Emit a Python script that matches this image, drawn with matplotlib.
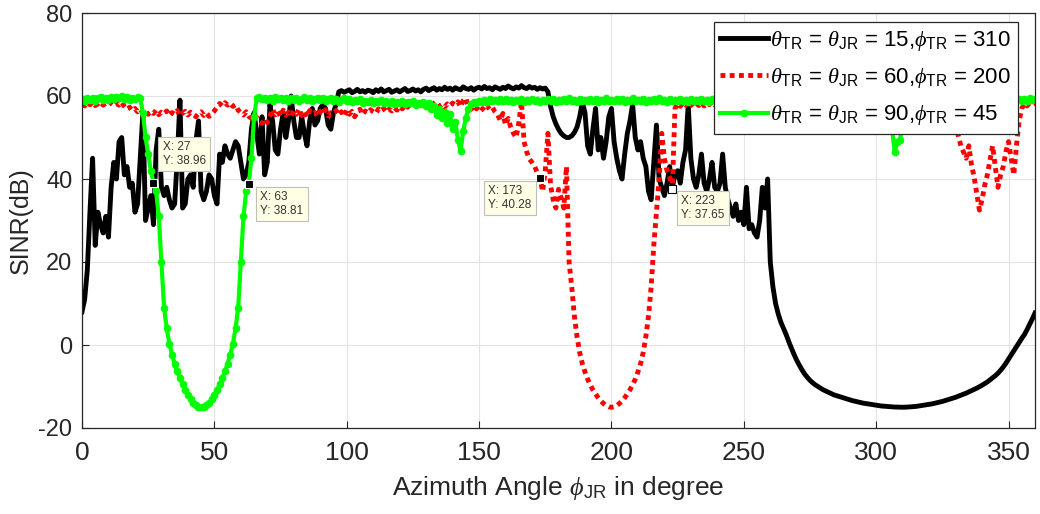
import numpy as np
import matplotlib
matplotlib.use('Agg')
import matplotlib.pyplot as plt

# azimuth angle grid (degree)
phi = np.arange(0, 361)

# SINR (dB), theta_TR = theta_JR = 15, phi_TR = 310
sinr_15 = [
    8, 11, 18, 32, 45, 24, 32, 29, 27, 31,                                  # 0
    26, 38, 44, 40, 49, 50, 41, 43, 38, 39,                                 # 10
    32, 34, 45, 56, 30, 33, 36, 29, 47, 52,                                 # 20
    38, 36, 38, 35, 33, 34, 45, 59, 33, 34,                                 # 30
    40, 41, 38, 49, 54, 37, 35, 37, 41, 40,                                 # 40
    36, 34, 46, 44, 48, 46, 45, 47, 49, 48,                                 # 50
    44, 40, 41, 44, 52, 56, 51, 46, 55, 41,                                 # 60
    44, 58, 54, 47, 46, 52, 56, 50, 54, 60,                                 # 70
    54, 50, 50, 55, 51, 48, 54, 57, 53, 54,                                 # 80
    57, 58, 57, 53, 52, 56, 58, 61, 61.3, 60.9,                             # 90
    61.2, 61.5, 60.8, 61.1, 61.6, 61.0, 61.3, 60.9, 61.4, 61.2,             # 100
    60.8, 61.5, 61.1, 61.7, 61.0, 61.3, 61.6, 60.9, 61.2, 61.5,             # 110
    61.0, 61.4, 61.8, 61.1, 61.3, 61.7, 61.2, 61.5, 61.0, 61.6,             # 120
    61.9, 61.3, 61.7, 62.0, 61.4, 61.8, 61.5, 62.1, 61.6, 61.9,             # 130
    61.4, 62.0, 61.7, 61.5, 62.2, 61.8, 61.6, 62.0, 61.4, 61.9,             # 140
    62.1, 61.7, 62.3, 61.8, 62.0, 61.5, 62.2, 61.9, 61.6, 62.1,             # 150
    61.8, 62.4, 62.0, 61.7, 62.2, 61.9, 62.5, 62.0, 61.8, 62.3,             # 160
    61.9, 62.1, 61.6, 62.0, 61.7, 61.9, 61.0, 57.5, 55.0, 53.3,             # 170
    52.0, 51.0, 50.4, 50.0, 50.0, 50.4, 51.2, 52.5, 55.0, 58.5,             # 180
    56, 48, 46, 52, 57, 47, 50, 45, 49, 55,                                 # 190
    57, 49, 45, 42, 40, 46, 51, 54, 58, 50,                                 # 200
    47, 49, 45, 43, 37, 35, 44, 53, 40, 38,                                 # 210
    36, 39, 43, 38, 41, 42, 39, 44, 47, 58,                                 # 220
    45, 40, 38, 41, 46, 39, 37, 40, 44, 38,                                 # 230
    37, 39, 46, 38, 35, 33, 31, 34, 30, 32,                                 # 240
    29, 38, 28, 29, 27, 26, 30, 38, 33, 40,                                 # 250
    20, 14, 10, 7.5, 5.5, 4, 2.5, 0.8, -0.8, -2.3,                          # 260
    -3.7, -4.9, -6, -7, -7.8, -8.5, -9.1, -9.6, -10, -10.4,                 # 270
    -10.8, -11.1, -11.4, -11.7, -12, -12.2, -12.4, -12.6, -12.8, -13,       # 280
    -13.2, -13.4, -13.55, -13.7, -13.85, -14, -14.1, -14.2, -14.3, -14.4,   # 290
    -14.5, -14.6, -14.7, -14.75, -14.8, -14.85, -14.9, -14.95, -14.97, -15, # 300
    -15, -14.98, -14.95, -14.9, -14.85, -14.8, -14.7, -14.6, -14.5, -14.4,  # 310
    -14.3, -14.2, -14.05, -13.9, -13.75, -13.6, -13.4, -13.2, -13, -12.8,   # 320
    -12.6, -12.35, -12.1, -11.85, -11.6, -11.3, -11, -10.7, -10.4, -10.05,  # 330
    -9.7, -9.3, -8.9, -8.4, -7.9, -7.4, -6.8, -6.1, -5.3, -4.4,             # 340
    -3.4, -2.4, -1.4, -0.4, 0.6, 1.6, 2.5, 3.7, 5, 6.3,                     # 350
    7.7,                                                                    # 360
]

# SINR (dB), theta_TR = theta_JR = 60, phi_TR = 200
sinr_60 = [
    58.2, 57.6, 58.4, 57.9, 58.5, 57.7, 58.1, 58.6, 57.8, 58.3,     # 0
    57.9, 58.4, 57.6, 58.2, 57.8, 58.5, 57.5, 56.8, 57.3, 56.5,     # 10
    57.0, 56.2, 56.8, 55.9, 56.5, 55.6, 56.3, 55.8, 56.6, 55.5,     # 20
    56.1, 55.7, 56.4, 55.3, 56.0, 55.6, 56.5, 55.2, 55.9, 56.3,     # 30
    55.4, 56.1, 55.7, 55.0, 55.8, 56.2, 55.3, 55.9, 55.1, 55.6,     # 40
    56.4, 57.3, 58.2, 57.6, 58.4, 57.8, 58.3, 57.5, 57.9, 56.6,     # 50
    56.0, 55.4, 56.2, 55.1, 54.6, 55.6, 54.8, 54.0, 53.4, 54.5,     # 60
    53.6, 55.2, 56.8, 55.5, 56.3, 55.0, 56.6, 55.4, 56.1, 55.2,     # 70
    56.4, 55.6, 56.9, 55.3, 56.2, 54.9, 56.5, 55.7, 56.0, 55.1,     # 80
    56.3, 55.5, 56.7, 55.2, 56.0, 55.8, 56.5, 55.4, 56.2, 55.1,     # 90
    56.6, 55.6, 56.3, 55.0, 56.1, 56.8, 55.5, 56.4, 55.9, 56.7,     # 100
    56.2, 55.8, 56.9, 56.3, 57.0, 56.1, 56.8, 56.4, 57.2, 56.6,     # 110
    57.5, 56.9, 57.8, 57.3, 58.1, 57.4, 58.3, 57.7, 58.5, 57.9,     # 120
    58.2, 57.6, 58.6, 57.9, 58.4, 57.5, 58.0, 57.3, 58.1, 57.6,     # 130
    58.3, 57.8, 58.6, 57.4, 58.9, 59.5, 57.2, 56.8, 57.7, 56.9,     # 140
    57.8, 57.1, 56.5, 57.6, 56.8, 57.3, 56.2, 55.5, 54.1, 55.8,     # 150
    53.0, 54.6, 52.4, 51.0, 50.0, 53.5, 58.6, 49.0, 46.5, 44.8,     # 160
    44.0, 43.0, 41.5, 40.28, 37.0, 42.0, 51.0, 38.5, 35.0, 33.0,    # 170
    37.5, 35.5, 33.0, 43.0, 20.0, 14.0, 7.0, 2.0, -1.8, -4.5,       # 180
    -6.5, -8.2, -9.6, -10.8, -11.8, -12.7, -13.5, -14.1, -14.6, -14.9,  # 190
    -15.0, -14.9, -14.6, -14.1, -13.5, -12.7, -11.8, -10.8, -9.6, -8.2, # 200
    -6.5, -4.5, -1.8, 2.0, 7.0, 14.0, 24.0, 32.0, 40.0, 51.0,       # 210
    45.0, 42.0, 40.5, 37.65, 57.0, 58.2, 57.5, 58.4, 57.8, 59.0,    # 220
    58.1, 57.4, 58.3, 57.7, 58.5, 57.6, 58.2, 57.9, 58.6, 57.8,     # 230
    58.0, 57.5, 58.3, 57.6, 58.1, 57.4, 58.2, 57.7, 58.0, 57.5,     # 240
    58.2, 57.6, 58.1, 57.3, 57.9, 57.5, 58.2, 57.8, 57.4, 58.0,     # 250
    57.6, 58.3, 57.7, 57.9, 57.2, 58.0, 57.5, 58.1, 57.6, 57.8,     # 260
    57.3, 58.0, 57.4, 57.9, 57.1, 57.7, 58.2, 57.5, 57.8, 57.2,     # 270
    57.9, 57.4, 58.1, 57.6, 57.8, 57.2, 57.9, 57.5, 58.0, 57.3,     # 280
    57.8, 57.4, 58.1, 57.6, 57.9, 57.3, 57.7, 58.0, 57.5, 57.8,     # 290
    57.2, 57.9, 57.5, 58.0, 57.4, 57.7, 57.1, 57.8, 57.5, 57.9,     # 300
    57.3, 57.6, 58.0, 57.4, 57.8, 57.2, 57.7, 57.5, 57.9, 57.3,     # 310
    57.6, 57.0, 57.5, 56.8, 57.2, 56.5, 56.9, 55.8, 56.4, 54.5,     # 320
    53.0, 50.5, 48.0, 46.5, 45.0, 48.0, 43.5, 40.5, 36.5, 32.5,     # 330
    35.0, 38.5, 41.0, 44.5, 48.0, 43.0, 38.0, 41.0, 43.0, 46.5,     # 340
    49.0, 45.0, 41.0, 48.0, 54.0, 57.0, 58.2, 57.6, 58.4, 57.9,     # 350
    58.3,                                                           # 360
]

# SINR (dB), theta_TR = theta_JR = 90, phi_TR = 45
sinr_90 = [
    59.3, 58.8, 59.5, 59.0, 59.6, 58.9, 59.4, 59.8, 59.1, 59.5,     # 0
    59.0, 59.7, 59.2, 59.8, 59.4, 60.0, 59.3, 59.7, 59.1, 59.6,     # 10
    59.2, 59.8, 59.4, 56.0, 50.0, 46.0, 42.0, 38.96, 37.0, 31.0,    # 20
    20.0, 9.0, 4.0, 0.3, -2.3, -4.5, -6.3, -8.0, -9.5, -10.8,       # 30
    -12.0, -13.0, -13.9, -14.5, -14.9, -15.0, -14.9, -14.5, -13.9, -13.0,  # 40
    -12.0, -10.8, -9.5, -8.0, -6.3, -4.5, -2.3, 0.3, 4.0, 9.0,      # 50
    20.0, 31.0, 37.0, 38.81, 45.0, 55.0, 59.5, 59.8, 59.2, 59.6,    # 60
    59.0, 59.5, 58.9, 59.7, 59.2, 59.6, 59.0, 59.4, 58.8, 59.5,     # 70
    59.1, 59.6, 58.9, 59.3, 59.7, 59.0, 59.4, 58.8, 59.3, 59.6,     # 80
    59.0, 59.4, 58.7, 59.2, 59.5, 58.9, 59.3, 58.6, 59.1, 59.4,     # 90
    58.8, 59.2, 58.5, 59.0, 58.7, 59.3, 58.4, 58.9, 58.6, 59.1,     # 100
    58.3, 58.8, 58.5, 59.0, 58.2, 58.7, 58.4, 58.9, 58.1, 58.6,     # 110
    58.3, 58.8, 58.0, 58.5, 58.2, 58.7, 57.9, 58.4, 58.1, 58.5,     # 120
    57.5, 58.2, 56.8, 57.6, 55.4, 56.9, 54.8, 56.2, 53.5, 55.6,     # 130
    52.0, 53.8, 49.5, 46.8, 51.5, 54.8, 56.9, 58.0, 58.6, 58.3,     # 140
    58.9, 58.5, 59.0, 58.6, 59.2, 58.7, 59.1, 58.8, 59.3, 58.9,     # 150
    59.2, 58.7, 59.0, 58.5, 59.1, 58.8, 59.3, 58.6, 59.0, 58.7,     # 160
    59.2, 58.8, 59.0, 58.5, 59.1, 58.7, 59.3, 58.9, 59.2, 58.6,     # 170
    59.0, 58.7, 59.2, 58.8, 59.4, 58.9, 59.1, 58.6, 59.3, 58.8,     # 180
    59.1, 58.7, 59.3, 58.9, 59.2, 58.6, 59.0, 58.8, 59.4, 58.9,     # 190
    59.1, 58.7, 59.3, 58.8, 59.2, 58.6, 59.0, 58.9, 59.4, 58.7,     # 200
    59.1, 58.8, 59.3, 58.6, 59.0, 58.9, 59.2, 58.7, 59.4, 58.8,     # 210
    59.0, 58.6, 59.3, 58.9, 59.1, 58.7, 59.2, 58.8, 59.0, 58.6,     # 220
    59.2, 58.8, 59.1, 58.7, 59.3, 58.9, 59.0, 58.6, 59.2, 58.8,     # 230
    59.1, 58.7, 59.0, 58.8, 59.2, 58.6, 59.1, 58.9, 59.0, 58.7,     # 240
    59.2, 58.8, 59.1, 58.6, 59.0, 58.9, 59.3, 58.7, 59.1, 58.8,     # 250
    59.0, 58.6, 59.2, 58.8, 59.1, 58.7, 59.0, 58.9, 59.2, 58.6,     # 260
    59.1, 58.8, 59.0, 58.7, 59.2, 58.9, 59.1, 58.6, 59.0, 58.8,     # 270
    59.2, 58.7, 59.1, 58.9, 59.0, 58.6, 59.2, 58.8, 59.1, 58.7,     # 280
    59.0, 58.8, 59.2, 58.6, 59.1, 58.9, 59.0, 58.7, 59.2, 58.8,     # 290
    59.1, 58.6, 59.0, 58.8, 58.2, 56.5, 52.0, 46.5, 49.0, 49.5,     # 300
    53.0, 57.5, 58.9, 59.2, 58.7, 59.1, 58.8, 59.0, 58.6, 59.2,     # 310
    58.8, 59.1, 58.7, 59.0, 58.9, 59.2, 58.6, 59.1, 58.8, 59.0,     # 320
    58.7, 59.2, 58.9, 59.1, 58.6, 59.0, 58.8, 59.2, 58.7, 59.1,     # 330
    58.9, 59.0, 58.6, 59.2, 58.8, 59.1, 58.7, 59.0, 58.9, 59.2,     # 340
    58.8, 59.1, 58.7, 59.0, 59.3, 58.9, 59.2, 58.8, 59.4, 59.0,     # 350
    59.2,                                                           # 360
]

# data tips
tip_x = [27, 63, 173, 223]
tip_y = [38.96, 38.81, 40.28, 37.65]

labels = [
    r'$\theta_{\mathrm{TR}}$ = $\theta_{\mathrm{JR}}$ = 15,$\phi_{\mathrm{TR}}$ = 310',
    r'$\theta_{\mathrm{TR}}$ = $\theta_{\mathrm{JR}}$ = 60,$\phi_{\mathrm{TR}}$ = 200',
    r'$\theta_{\mathrm{TR}}$ = $\theta_{\mathrm{JR}}$ = 90,$\phi_{\mathrm{TR}}$ = 45',
]

plt.rcParams['font.family'] = ['Liberation Sans', 'DejaVu Sans']
plt.rcParams['mathtext.fontset'] = 'custom'
plt.rcParams['mathtext.rm'] = 'Liberation Sans'
plt.rcParams['mathtext.it'] = 'Liberation Serif:italic'
plt.rcParams['axes.unicode_minus'] = False

fig = plt.figure(figsize=(10.4, 5.14), dpi=100)
ax = fig.add_axes([82 / 1040, 1 - 428 / 514, 953 / 1040, 415 / 514])

ax.plot(phi, sinr_15, color='k', lw=3.5, label=labels[0])
ax.plot(phi, sinr_60, color='#FF0000', lw=3.5, ls=(0, (1, 0.9)), label=labels[1])
ax.plot(phi, sinr_90, color='#00FF00', lw=3, marker='o', ms=4.5, label=labels[2])

# data tip markers and boxes
tip_offsets = [(6.5, 12), (8.4, -5.4), (-6.1, -5.4), (6.6, -4.7)]
tip_align = [('left', 'bottom'), ('left', 'top'), ('right', 'top'), ('left', 'top')]
tip_fill = ['k', 'k', 'k', 'w']
for x, y, off, (ha, va), fc in zip(tip_x, tip_y, tip_offsets, tip_align, tip_fill):
    ax.plot(x, y, marker='s', ms=6, mfc=fc, mec='k' if fc == 'w' else 'w', mew=0.8, zorder=5)
    ax.annotate(f'X: {x}\nY: {y:.2f}', xy=(x, y), xytext=off, textcoords='offset points',
                ha=ha, va=va, multialignment='left', fontsize=8.5, color='#333333',
                bbox=dict(boxstyle='square,pad=0.35', fc='#FFFFE6', ec='#BEBEBE', lw=0.8),
                zorder=6)

ax.set_xlim(0, 360)
ax.set_ylim(-20, 80)
ax.set_xticks(range(0, 351, 50))
ax.set_yticks(range(-20, 81, 20))
ax.grid(True, color='#E3E3E3', lw=0.8)
ax.set_axisbelow(True)
ax.tick_params(direction='in', length=5, color='#262626', labelcolor='#262626')
ax.tick_params(axis='y', labelsize=17, pad=7)
ax.tick_params(axis='x', labelsize=19, pad=9)
for sp in ax.spines.values():
    sp.set_color('#262626')
    sp.set_linewidth(0.9)

ax.set_ylabel('SINR(dB)', fontsize=18, color='#262626', labelpad=4)
ax.set_xlabel(r'Azimuth Angle $\phi_{\mathrm{JR}}$ in degree', fontsize=19, color='#262626',
              labelpad=7)

leg = ax.legend(loc='upper right', bbox_to_anchor=(0.982, 0.978), borderaxespad=0,
                fontsize=16, fancybox=False, framealpha=1, edgecolor='#262626',
                handlelength=2.15, handletextpad=0.1, labelspacing=0.6, borderpad=0.3,
                numpoints=1)
leg.get_frame().set_linewidth(0.9)

fig.savefig('out.png', dpi=100)
